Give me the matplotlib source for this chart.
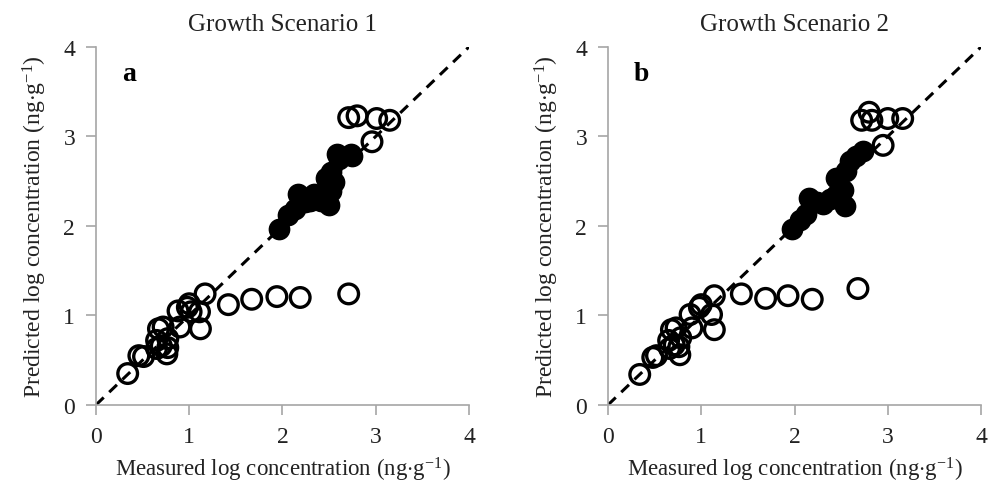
import matplotlib
matplotlib.use('Agg')
from matplotlib import pyplot as plt
import numpy as np

plt.rcParams['font.family'] = ['Liberation Serif', 'DejaVu Serif']
plt.rcParams['mathtext.fontset'] = 'custom'
plt.rcParams['mathtext.rm'] = 'Liberation Serif'
plt.rcParams['mathtext.it'] = 'Liberation Serif:italic'

# ---- panel a : Growth Scenario 1 ----
a_open_x = [0.34, 0.46, 0.51, 0.65, 0.65, 0.67, 0.70, 0.72, 0.76, 0.77, 0.77,
            0.88, 0.90, 0.98, 1.00, 1.02, 1.11, 1.12, 1.17,
            1.42, 1.67, 1.94, 2.19, 2.71,
            2.71, 2.80, 2.96, 3.01, 3.15]
a_open_y = [0.35, 0.55, 0.54, 0.72, 0.63, 0.85, 0.66, 0.87, 0.57, 0.74, 0.64,
            1.05, 0.87, 1.09, 1.13, 1.04, 1.04, 0.85, 1.24,
            1.12, 1.18, 1.21, 1.20, 1.24,
            3.21, 3.23, 2.94, 3.20, 3.18]
a_fill_x = [1.96, 2.06, 2.13, 2.17, 2.24, 2.29, 2.34, 2.41, 2.50, 2.52,
            2.47, 2.52, 2.55, 2.59, 2.61, 2.73, 2.75]
a_fill_y = [1.97, 2.12, 2.19, 2.36, 2.27, 2.28, 2.36, 2.28, 2.23, 2.39,
            2.54, 2.60, 2.49, 2.80, 2.75, 2.80, 2.78]

# ---- panel b : Growth Scenario 2 ----
b_open_x = [0.34, 0.48, 0.52, 0.65, 0.66, 0.68, 0.71, 0.73, 0.77, 0.78, 0.76,
            0.88, 0.90, 0.98, 1.00, 1.11, 1.14, 1.14,
            1.43, 1.69, 1.93, 2.19, 2.68,
            2.72, 2.80, 2.83, 2.95, 3.00, 3.16]
b_open_y = [0.34, 0.53, 0.55, 0.72, 0.63, 0.84, 0.67, 0.86, 0.56, 0.75, 0.65,
            1.01, 0.86, 1.09, 1.12, 1.01, 1.22, 0.84,
            1.24, 1.19, 1.22, 1.18, 1.30,
            3.18, 3.27, 3.18, 2.90, 3.20, 3.20]
b_fill_x = [1.97, 2.06, 2.12, 2.15, 2.24, 2.31, 2.38, 2.45, 2.54, 2.52,
            2.45, 2.55, 2.59, 2.66, 2.73]
b_fill_y = [1.97, 2.07, 2.13, 2.31, 2.27, 2.24, 2.30, 2.35, 2.22, 2.40,
            2.54, 2.61, 2.73, 2.78, 2.84]

panels = [
    ('Growth Scenario 1', 'a', a_open_x, a_open_y, a_fill_x, a_fill_y),
    ('Growth Scenario 2', 'b', b_open_x, b_open_y, b_fill_x, b_fill_y),
]

ticks = [0, 1, 2, 3, 4]
unit = r'(ng$\cdot$g$^{-1}$)'

fig = plt.figure(figsize=(10.04, 4.89), dpi=100)
lefts = [0.0956, 0.6056]
for i, (title, letter, ox, oy, fx, fy) in enumerate(panels):
    ax = fig.add_axes([lefts[i], 0.170, 0.3715, 0.732])
    ax.plot([0, 4], [0, 4], color='k', ls=(0, (3.5, 2.5)), lw=2.2, zorder=1)
    ax.scatter(ox, oy, s=200, facecolors='none', edgecolors='k', linewidths=2.4, zorder=2)
    ax.scatter(fx, fy, s=200, facecolors='k', edgecolors='k', linewidths=1.5, zorder=3)
    ax.set_xlim(0, 4)
    ax.set_ylim(0, 4)
    ax.set_xticks(ticks)
    ax.set_yticks(ticks)
    for s in ['top', 'right']:
        ax.spines[s].set_visible(False)
    for s in ['left', 'bottom']:
        ax.spines[s].set_color('#a6a6a6')
        ax.spines[s].set_linewidth(1.2)
    ax.tick_params(direction='out', length=7, width=1.2, color='#a6a6a6',
                   labelsize=17, labelcolor='#222222', pad=8)
    ax.set_title(title, fontsize=18, color='#222222', pad=12)
    ax.set_xlabel('Measured log concentration ' + unit, fontsize=16.5, color='#222222', labelpad=6)
    ax.set_ylabel('Predicted log concentration ' + unit, fontsize=17, color='#222222', labelpad=10)
    ax.text(0.28, 3.7, letter, fontsize=20, fontweight='bold', va='center')
    for c in ax.collections:
        c.set_clip_on(False)

fig.savefig('out.png', dpi=100)
